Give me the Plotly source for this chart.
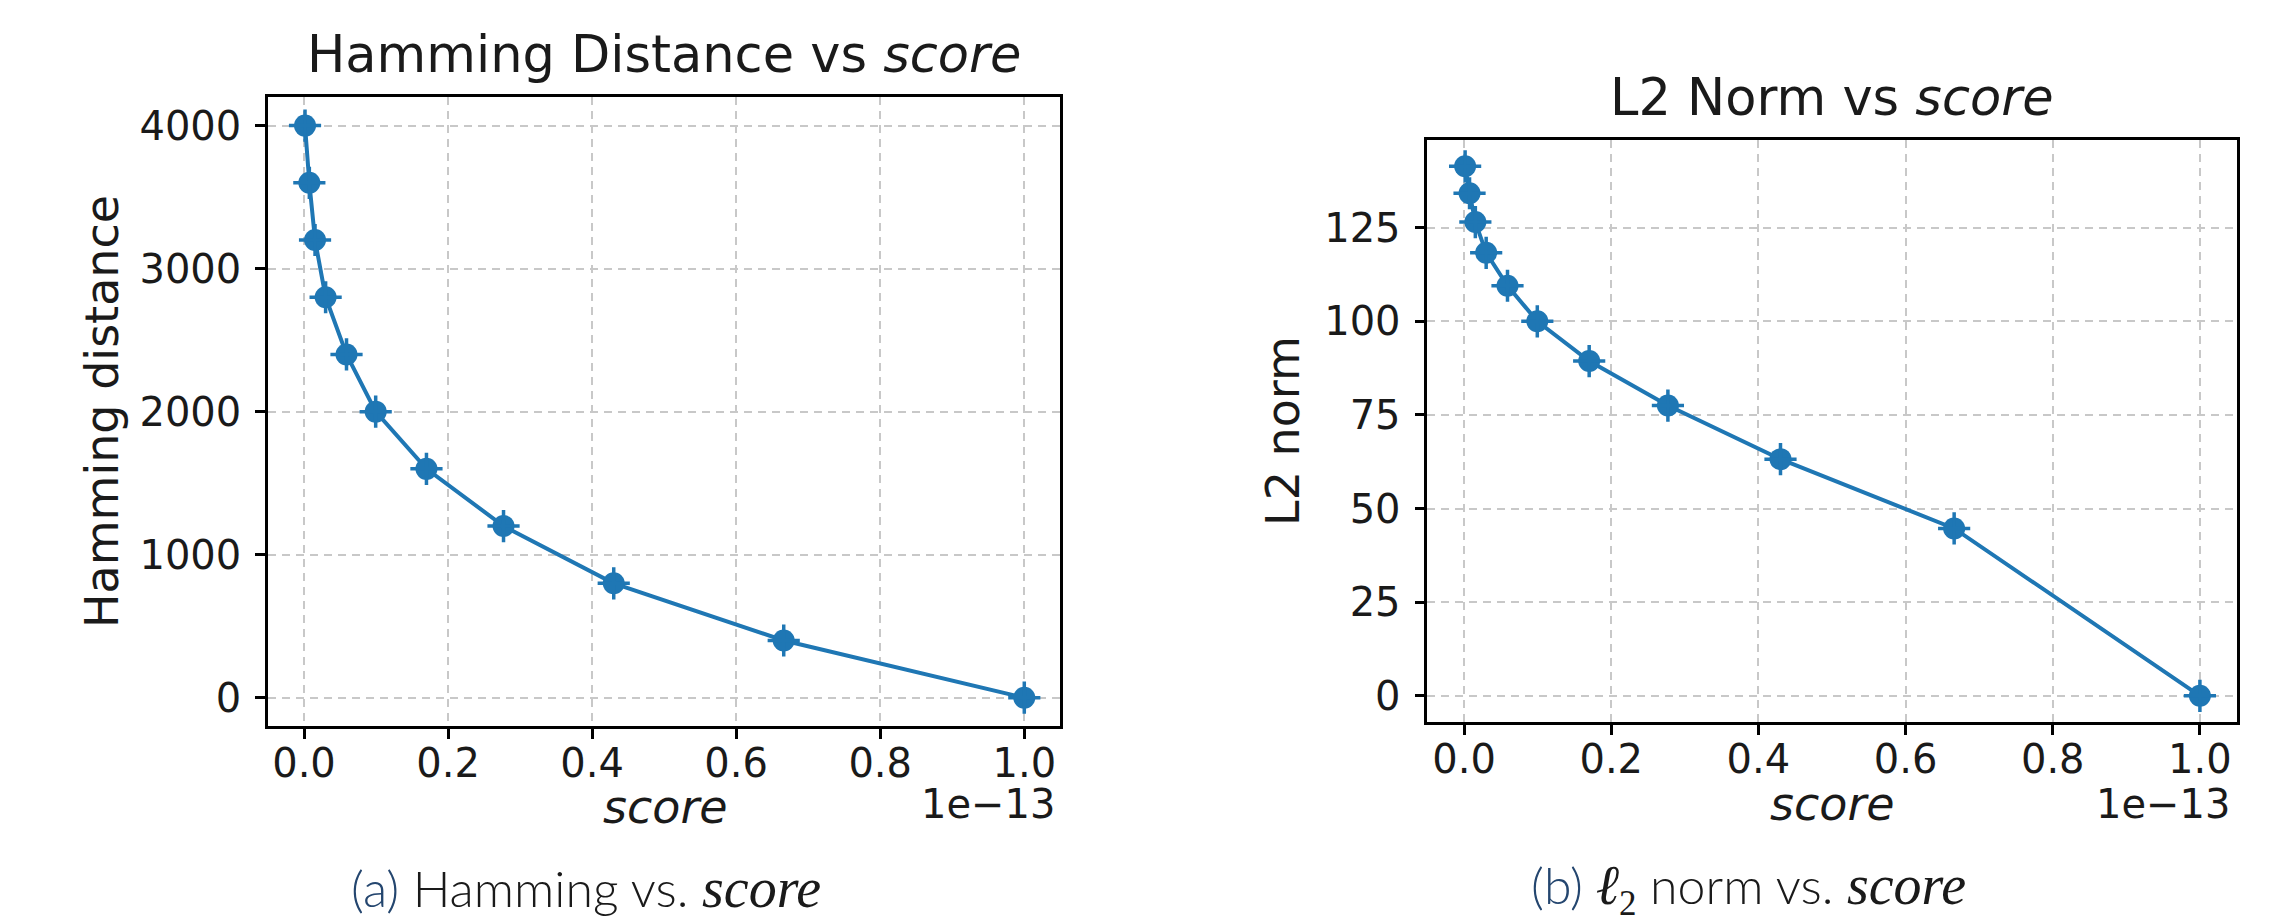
import plotly.graph_objects as go

# ---- data ----
score_values = [0.0014e-13, 0.0074e-13, 0.0153e-13, 0.030e-13, 0.059e-13, 0.0995e-13,
                0.170e-13, 0.277e-13, 0.430e-13, 0.666e-13, 1.0e-13]
hamming_values = [4000, 3600, 3200, 2800, 2400, 2000, 1600, 1200, 800, 400, 0]
l2_values = [141.4, 134.2, 126.5, 118.3, 109.5, 100.0, 89.4, 77.5, 63.2, 44.7, 0.0]
score_scale = 1e-13
x_tick_vals = [0.0, 0.2, 0.4, 0.6, 0.8, 1.0]
x_tick_text = ["0.0", "0.2", "0.4", "0.6", "0.8", "1.0"]
hamming_ticks = [0, 1000, 2000, 3000, 4000]
l2_ticks = [0, 25, 50, 75, 100, 125]

W, H = 2274, 920
BLUE = "#1f77b4"
TXT = "#1a1a1a"
TICKFONT = dict(family="DejaVu Sans", size=40, color=TXT)

x_scaled = [s / score_scale for s in score_values]

def px(x):
    return x / W

def py(y):
    return 1 - y / H

fig = go.Figure()

for xa, ya, yvals in [("x", "y", hamming_values), ("x2", "y2", l2_values)]:
    fig.add_trace(go.Scatter(
        x=x_scaled, y=yvals, xaxis=xa, yaxis=ya, mode="lines+markers",
        line=dict(color=BLUE, width=4),
        marker=dict(symbol="circle", size=22, color=BLUE, line=dict(width=0)),
        showlegend=False, hoverinfo="x+y"))
    fig.add_trace(go.Scatter(
        x=x_scaled, y=yvals, xaxis=xa, yaxis=ya, mode="markers",
        marker=dict(symbol="cross-thin", size=23, color=BLUE,
                    line=dict(width=3.5, color=BLUE)),
        showlegend=False, hoverinfo="skip"))

axis_common = dict(
    showline=True, mirror=True, linecolor="black", linewidth=2.5,
    ticks="outside", ticklen=10, tickwidth=2.5, tickcolor="black",
    tickfont=TICKFONT, showgrid=True, gridcolor="#c8c8c8", gridwidth=2,
    griddash="8px,6px", zeroline=False,
)

fig.update_layout(
    width=W, height=H, margin=dict(l=0, r=0, t=0, b=0),
    paper_bgcolor="white", plot_bgcolor="white",
    xaxis=dict(domain=[px(260), px(1052.3)], range=[-0.05, 1.05], ticklabelstandoff=-10,
               tickvals=x_tick_vals, ticktext=x_tick_text, anchor="y", **axis_common),
    yaxis=dict(domain=[py(718.3), py(89)], range=[-200, 4200], ticklabelstandoff=6,
               tickvals=hamming_ticks, anchor="x", **axis_common),
    xaxis2=dict(domain=[px(1419.3), px(2228.7)], range=[-0.05, 1.05], ticklabelstandoff=-10,
                tickvals=x_tick_vals, ticktext=x_tick_text, anchor="y2", **axis_common),
    yaxis2=dict(domain=[py(714.3), py(131.7)], range=[-7.07, 148.5], ticklabelstandoff=6,
                tickvals=l2_ticks, anchor="x2", **axis_common),
)

def ann(text, x, y, size, family="DejaVu Sans", xanchor="center", angle=0, color=TXT):
    fig.add_annotation(text=text, x=px(x), y=py(y), xref="paper", yref="paper",
                       xanchor=xanchor, yanchor="middle", showarrow=False,
                       textangle=angle, font=dict(family=family, size=size, color=color))

# titles
ann("Hamming Distance vs <i>score</i>", 656, 46, 51)
ann("L2 Norm vs <i>score</i>", 1824, 89, 51)
# axis labels
ann("<i>score</i>", 657, 799, 46)
ann("<i>score</i>", 1824, 796, 46)
ann("Hamming distance", 94, 404, 46, angle=-90)
ann("L2 norm", 1275, 423, 46, angle=-90)
# offset text
ann("1e\u221213", 1049, 796, 40, xanchor="right")
ann("1e\u221213", 2224, 796, 40, xanchor="right")
# captions
SERIF = "font-family:Liberation Serif;font-size:56px;font-style:italic;font-weight:300"
LIGHT = "font-weight:300"
ann('<span style="color:#24466f;' + LIGHT + '">(a)</span>'
    '<span style="' + LIGHT + '"> Hamming vs. </span>'
    '<span style="' + SERIF + '">score</span>', 578, 880, 50, family="Lato")
ann('<span style="color:#24466f;' + LIGHT + '">(b)</span> '
    '<span style="' + SERIF + '">\u2113</span>'
    '<span style="font-family:Liberation Serif;font-weight:300"><sub>2</sub></span>'
    '<span style="' + LIGHT + '"> norm vs. </span>'
    '<span style="' + SERIF + '">score</span>', 1740, 880, 50, family="Lato")

fig.write_html("out.html")
